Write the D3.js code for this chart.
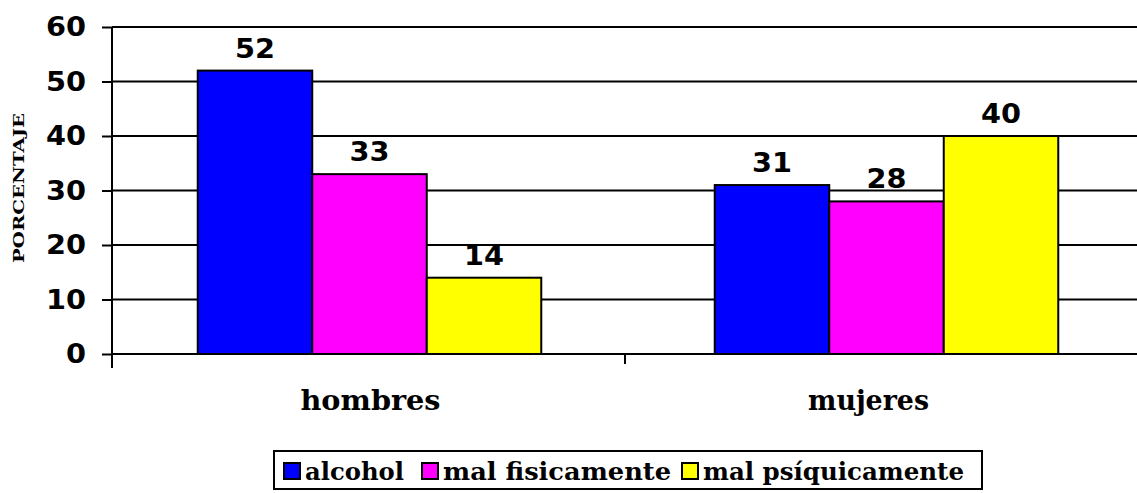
<!DOCTYPE html>
<html>
<head>
<meta charset="utf-8">
<script src="https://cdn.jsdelivr.net/npm/d3@7"></script>
<style>
  html, body { margin: 0; padding: 0; background: #fff; }
  svg { display: block; }
</style>
</head>
<body>
<svg id="chart" width="1137" height="493"></svg>
<script>
const categories = ["hombres", "mujeres"];
const seriesNames = ["alcohol", "mal fisicamente", "mal psíquicamente"];
const seriesColors = ["#0000ff", "#ff00ff", "#ffff00"];
const alcohol = [52, 31];
const malFisicamente = [33, 28];
const malPsiquicamente = [14, 40];
const yTicks = [0, 10, 20, 30, 40, 50, 60];
const yTitle = "PORCENTAJE";

const seriesValues = [alcohol, malFisicamente, malPsiquicamente];

const svg = d3.select("#chart");
const mLeft = 112, mRight = 1138, mTop = 27, mBottom = 354;

const x = d3.scaleBand().domain(categories).range([mLeft, mRight]).paddingInner(0).paddingOuter(0);
const xs = d3.scaleBand().domain(seriesNames).range([0, x.bandwidth()]).paddingInner(0).paddingOuter(0.74);
const y = d3.scaleLinear().domain([0, 60]).range([mBottom, mTop]);

// gridlines
svg.append("g").selectAll("line").data(yTicks.filter(d => d > 0)).join("line")
  .attr("x1", mLeft).attr("x2", 1137)
  .attr("y1", d => y(d)).attr("y2", d => y(d))
  .attr("stroke", "#000").attr("stroke-width", 2);

// bars
const groups = svg.append("g").selectAll("g").data(categories).join("g")
  .attr("transform", (d, i) => `translate(${x(d) + (i === 0 ? 1 : 5)},0)`);
const valFont = "DejaVu Sans, Verdana, sans-serif";
groups.selectAll("rect").data((c, ci) => seriesNames.map((s, si) => ({s, si, v: seriesValues[si][ci]})))
  .join("rect")
  .attr("x", d => xs(d.s))
  .attr("width", xs.bandwidth())
  .attr("y", d => y(d.v))
  .attr("height", d => y(0) - y(d.v))
  .attr("fill", d => seriesColors[d.si])
  .attr("stroke", "#000").attr("stroke-width", 2);
groups.selectAll("text").data((c, ci) => seriesNames.map((s, si) => ({s, si, v: seriesValues[si][ci]})))
  .join("text")
  .attr("x", d => xs(d.s) + xs.bandwidth() / 2)
  .attr("y", d => y(d.v) - 13)
  .attr("text-anchor", "middle")
  .attr("font-family", valFont)
  .attr("font-weight", "bold").attr("font-size", 27)
  .attr("textLength", 40).attr("lengthAdjust", "spacingAndGlyphs")
  .text(d => d.v);

// y axis
const yAxis = d3.axisLeft(y).tickValues(yTicks).tickSize(10).tickPadding(16);
const gy = svg.append("g").attr("transform", `translate(${mLeft},0)`).call(yAxis);
gy.select(".domain").remove();
gy.selectAll(".tick line").attr("stroke", "#000").attr("stroke-width", 2);
gy.selectAll(".tick text").attr("font-family", valFont)
  .attr("font-weight", "bold").attr("font-size", 27).attr("fill", "#000")
  .attr("textLength", d => String(d).length * 20).attr("lengthAdjust", "spacingAndGlyphs");
svg.append("line").attr("x1", mLeft).attr("x2", mLeft).attr("y1", mTop).attr("y2", mBottom + 14)
  .attr("stroke", "#000").attr("stroke-width", 2);

// x axis
svg.append("line").attr("x1", mLeft).attr("x2", 1137).attr("y1", mBottom).attr("y2", mBottom)
  .attr("stroke", "#000").attr("stroke-width", 2);
svg.append("g").selectAll("line").data(categories.slice(1)).join("line")
  .attr("x1", d => x(d)).attr("x2", d => x(d))
  .attr("y1", mBottom).attr("y2", mBottom + 10)
  .attr("stroke", "#000").attr("stroke-width", 2);
const catW = [140, 121];
svg.append("g").selectAll("text").data(categories).join("text")
  .attr("x", d => x(d) + x.bandwidth() / 2 - (d === "mujeres" ? 13 : -2))
  .attr("y", 410)
  .attr("text-anchor", "middle")
  .attr("font-family", "DejaVu Serif, serif")
  .attr("font-weight", "bold").attr("font-size", 27)
  .attr("textLength", (d, i) => catW[i]).attr("lengthAdjust", "spacingAndGlyphs")
  .text(d => d);

// y title
svg.append("text")
  .attr("transform", "translate(24,188) rotate(-90)")
  .attr("text-anchor", "middle")
  .attr("font-family", "DejaVu Serif, serif")
  .attr("font-weight", "bold").attr("font-size", 14)
  .attr("textLength", 150).attr("lengthAdjust", "spacingAndGlyphs")
  .text(yTitle);

// legend
const legend = svg.append("g");
legend.append("rect").attr("x", 274).attr("y", 451).attr("width", 708).attr("height", 38)
  .attr("fill", "#fff").attr("stroke", "#000").attr("stroke-width", 2);
const legX = [284, 422, 682];
const legW = [99, 228, 261];
const items = legend.selectAll("g.item").data(seriesNames).join("g").attr("class", "item");
items.append("rect")
  .attr("x", (d, i) => legX[i]).attr("y", 463).attr("width", 16).attr("height", 16)
  .attr("fill", (d, i) => seriesColors[i]).attr("stroke", "#000").attr("stroke-width", 2);
items.append("text")
  .attr("x", (d, i) => legX[i] + 21).attr("y", 480)
  .attr("font-family", "DejaVu Serif, serif")
  .attr("font-weight", "bold").attr("font-size", 24)
  .attr("textLength", (d, i) => legW[i]).attr("lengthAdjust", "spacingAndGlyphs")
  .text(d => d);
</script>
</body>
</html>
